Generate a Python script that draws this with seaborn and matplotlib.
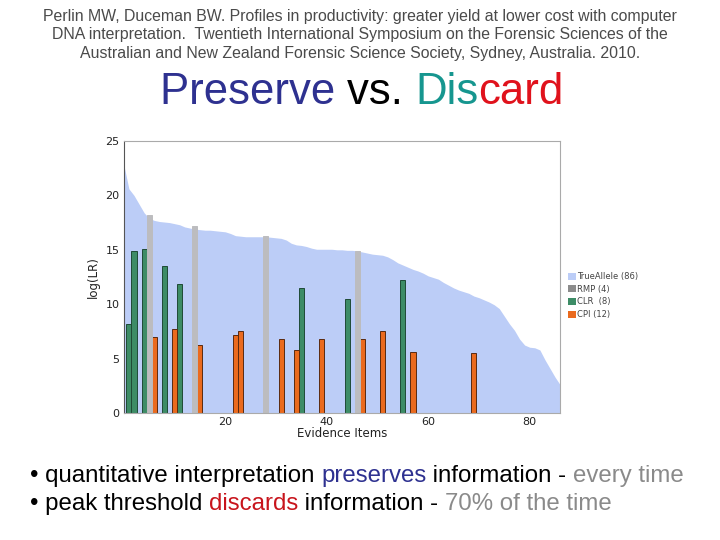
import numpy as np
import pandas as pd
import matplotlib
matplotlib.use("Agg")
import matplotlib.pyplot as plt
import seaborn as sns
from matplotlib.patches import Patch

# TrueAllele log(LR), sorted descending, items 0..86
truallele = [22.8, 20.6, 20.0, 19.2, 18.4, 17.9, 17.7, 17.6, 17.55, 17.5,
             17.4, 17.3, 17.1, 17.0, 16.9, 16.85, 16.8, 16.8, 16.75, 16.7,
             16.65, 16.5, 16.3, 16.25, 16.2, 16.2, 16.2, 16.2, 16.2, 16.15,
             16.1, 16.05, 15.9, 15.6, 15.45, 15.4, 15.3, 15.15, 15.05, 15.05,
             15.05, 15.05, 15.0, 15.0, 14.95, 14.95, 14.9, 14.8, 14.7, 14.6,
             14.55, 14.5, 14.35, 14.1, 13.8, 13.6, 13.4, 13.2, 13.05, 12.85,
             12.6, 12.45, 12.3, 12.0, 11.75, 11.5, 11.3, 11.15, 11.0, 10.75,
             10.6, 10.4, 10.2, 9.95, 9.6, 8.9, 8.2, 7.6, 6.8, 6.25,
             6.05, 6.0, 5.8, 4.9, 4.1, 3.3, 2.6]

rmp_items = [5, 14, 28, 46]
rmp_vals = [18.2, 17.15, 16.25, 14.9]

clr_items = [1, 2, 4, 8, 11, 35, 44, 55]
clr_vals = [8.2, 14.9, 15.1, 13.5, 11.85, 11.5, 10.5, 12.2]

cpi_items = [6, 10, 15, 22, 23, 31, 34, 39, 47, 51, 57, 69]
cpi_vals = [7.0, 7.75, 6.25, 7.2, 7.5, 6.8, 5.8, 6.8, 6.8, 7.5, 5.65, 5.5]

c_area = "#bccdf7"
c_rmp = "#bcbcbf"
c_clr = "#3d8c66"
c_cpi = "#ea6a1e"

sns.set_theme(style="white")
plt.rcParams['font.family'] = ['DejaVu Sans']

fig = plt.figure(figsize=(7.2, 5.4), dpi=100)
ax = fig.add_axes([0.172, 0.235, 0.606, 0.504])

area = pd.DataFrame({"item": np.arange(len(truallele)), "lr": truallele})
ax.fill_between(area["item"], 0, area["lr"], color=c_area, lw=0, zorder=1)

bars = pd.concat([
    pd.DataFrame({"item": rmp_items, "lr": rmp_vals, "kind": "RMP"}),
    pd.DataFrame({"item": clr_items, "lr": clr_vals, "kind": "CLR"}),
    pd.DataFrame({"item": cpi_items, "lr": cpi_vals, "kind": "CPI"}),
])
styles = {"RMP": (c_rmp, c_rmp), "CLR": (c_clr, "#1f4a36"), "CPI": (c_cpi, "#5a2a10")}
for kind, g in bars.groupby("kind"):
    fc, ec = styles[kind]
    ax.bar(g["item"], g["lr"], width=1.0, color=fc, edgecolor=ec,
           linewidth=0.7, zorder=2)

ax.set_xlim(0, 86)
ax.set_ylim(0, 25)
ax.set_xticks([20, 40, 60, 80])
ax.set_yticks([0, 5, 10, 15, 20, 25])
ax.tick_params(labelsize=8, length=0, pad=3, colors="#222222")
ax.set_xlabel("Evidence Items", fontsize=8.5, labelpad=0, color="#222222")
ax.set_ylabel("log(LR)", fontsize=8.5, labelpad=4, color="#222222")
for s in ["top", "right", "bottom"]:
    ax.spines[s].set_color("#aaaaaa")
    ax.spines[s].set_linewidth(0.8)
ax.spines["left"].set_color("#555555")
ax.spines["left"].set_linewidth(0.8)

handles = [Patch(facecolor=c_area, edgecolor="none", label="TrueAllele (86)"),
           Patch(facecolor="#8c8c8c", edgecolor="none", label="RMP (4)"),
           Patch(facecolor=c_clr, edgecolor="none", label="CLR  (8)"),
           Patch(facecolor=c_cpi, edgecolor="none", label="CPI (12)")]
leg = ax.legend(handles=handles, loc="upper left", bbox_to_anchor=(1.005, 0.54),
                frameon=False, fontsize=6, handlelength=0.9, handleheight=0.9,
                handletextpad=0.2, labelspacing=0.45, borderaxespad=0.3)
for t in leg.get_texts():
    t.set_color("#444444")

sans = ['Liberation Sans', 'DejaVu Sans']
cite = ("Perlin MW, Duceman BW. Profiles in productivity: greater yield at lower cost with computer\n"
        "DNA interpretation.  Twentieth International Symposium on the Forensic Sciences of the\n"
        "Australian and New Zealand Forensic Science Society, Sydney, Australia. 2010.")
fig.text(0.5, 0.984, cite, ha="center", va="top", fontsize=11.4, color="#4a4a4a",
         family=sans, linespacing=1.3)

# title with multicolored words
title_parts = [("Preserve ", "#2e3190"), ("vs. ", "#000000"), ("Dis", "#16968f"), ("card", "#e0121c")]
renderer = fig.canvas.get_renderer()
texts = []
for s, c in title_parts:
    t = fig.text(0, 0.808, s, fontsize=31.5, color=c, family=sans, va="baseline")
    texts.append(t)
widths = [t.get_window_extent(renderer).width for t in texts]
x0 = (720 - sum(widths)) / 2 + 2
for t, w in zip(texts, widths):
    t.set_x(x0 / 720)
    x0 += w

def colored_line(parts, y):
    x = 30
    for s, c in parts:
        t = fig.text(x / 720, y, s, fontsize=17.3, color=c, family=sans, va="baseline")
        x += t.get_window_extent(renderer).width

colored_line([("\u2022 quantitative interpretation ", "#000000"), ("preserves", "#2e3190"),
              (" information - ", "#000000"), ("every time", "#8a8a8a")], 0.108)
colored_line([("\u2022 peak threshold ", "#000000"), ("discards", "#c8141c"),
              (" information - ", "#000000"), ("70% of the time", "#8a8a8a")], 0.055)

fig.savefig("out.png", dpi=100)
